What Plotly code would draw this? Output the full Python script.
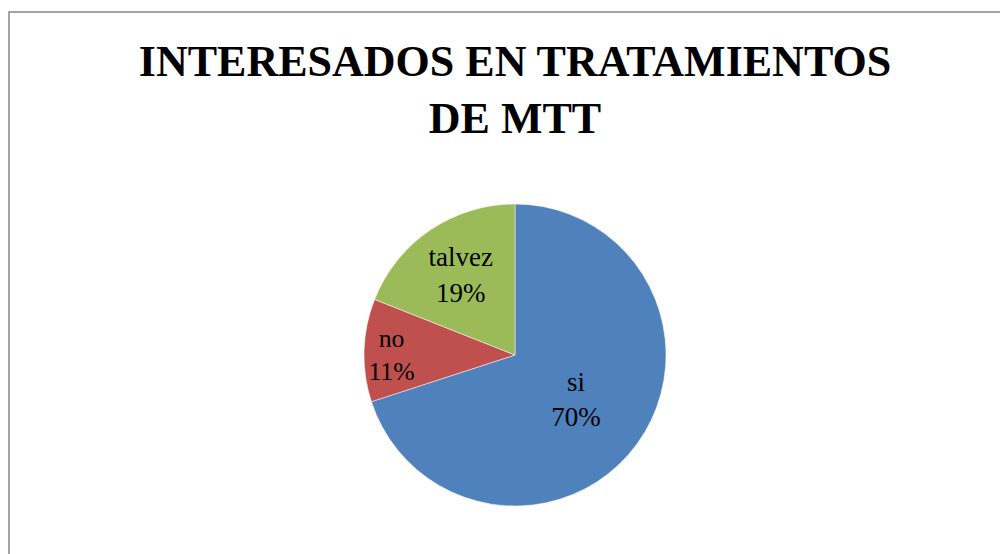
import plotly.graph_objects as go

labels = ["si", "no", "talvez"]
values = [70, 11, 19]
colors = ["#4F81BD", "#C0504D", "#9BBB59"]

title_text = "INTERESADOS EN TRATAMIENTOS<br>DE MTT"

W, H = 1008, 554
# page body has an 8px margin, so work in figure pixels
cx, cy, r = 507, 347, 151

fig = go.Figure(go.Pie(
    labels=labels,
    values=values,
    sort=False,
    direction="clockwise",
    rotation=0,
    marker=dict(colors=colors, line=dict(color="white", width=0.5)),
    texttemplate="%{label}<br>%{percent:.0%}",
    textposition="inside",
    insidetextorientation="horizontal",
    textfont=dict(family="Liberation Serif", size=27, color="black"),
    showlegend=False,
    hoverinfo="label+percent",
    domain=dict(x=[(cx - r) / W, (cx + r) / W],
                y=[(H - cy - r) / H, (H - cy + r) / H]),
))

fig.update_layout(
    width=W, height=H,
    margin=dict(l=0, r=0, t=0, b=0),
    paper_bgcolor="white",
    title=dict(
        text="<b>" + title_text + "</b>",
        font=dict(family="Liberation Serif", size=44, color="black"),
        x=507 / W, xanchor="center",
        y=1 - 68 / H, yanchor="top",
        yref="container",
    ),
)

# chart frame
fig.add_shape(type="rect", xref="paper", yref="paper",
              x0=1 / W, x1=1.05, y0=-0.05, y1=1 - 4 / H,
              line=dict(color="#868686", width=1.5), fillcolor="rgba(0,0,0,0)")

fig.write_html("out.html")
